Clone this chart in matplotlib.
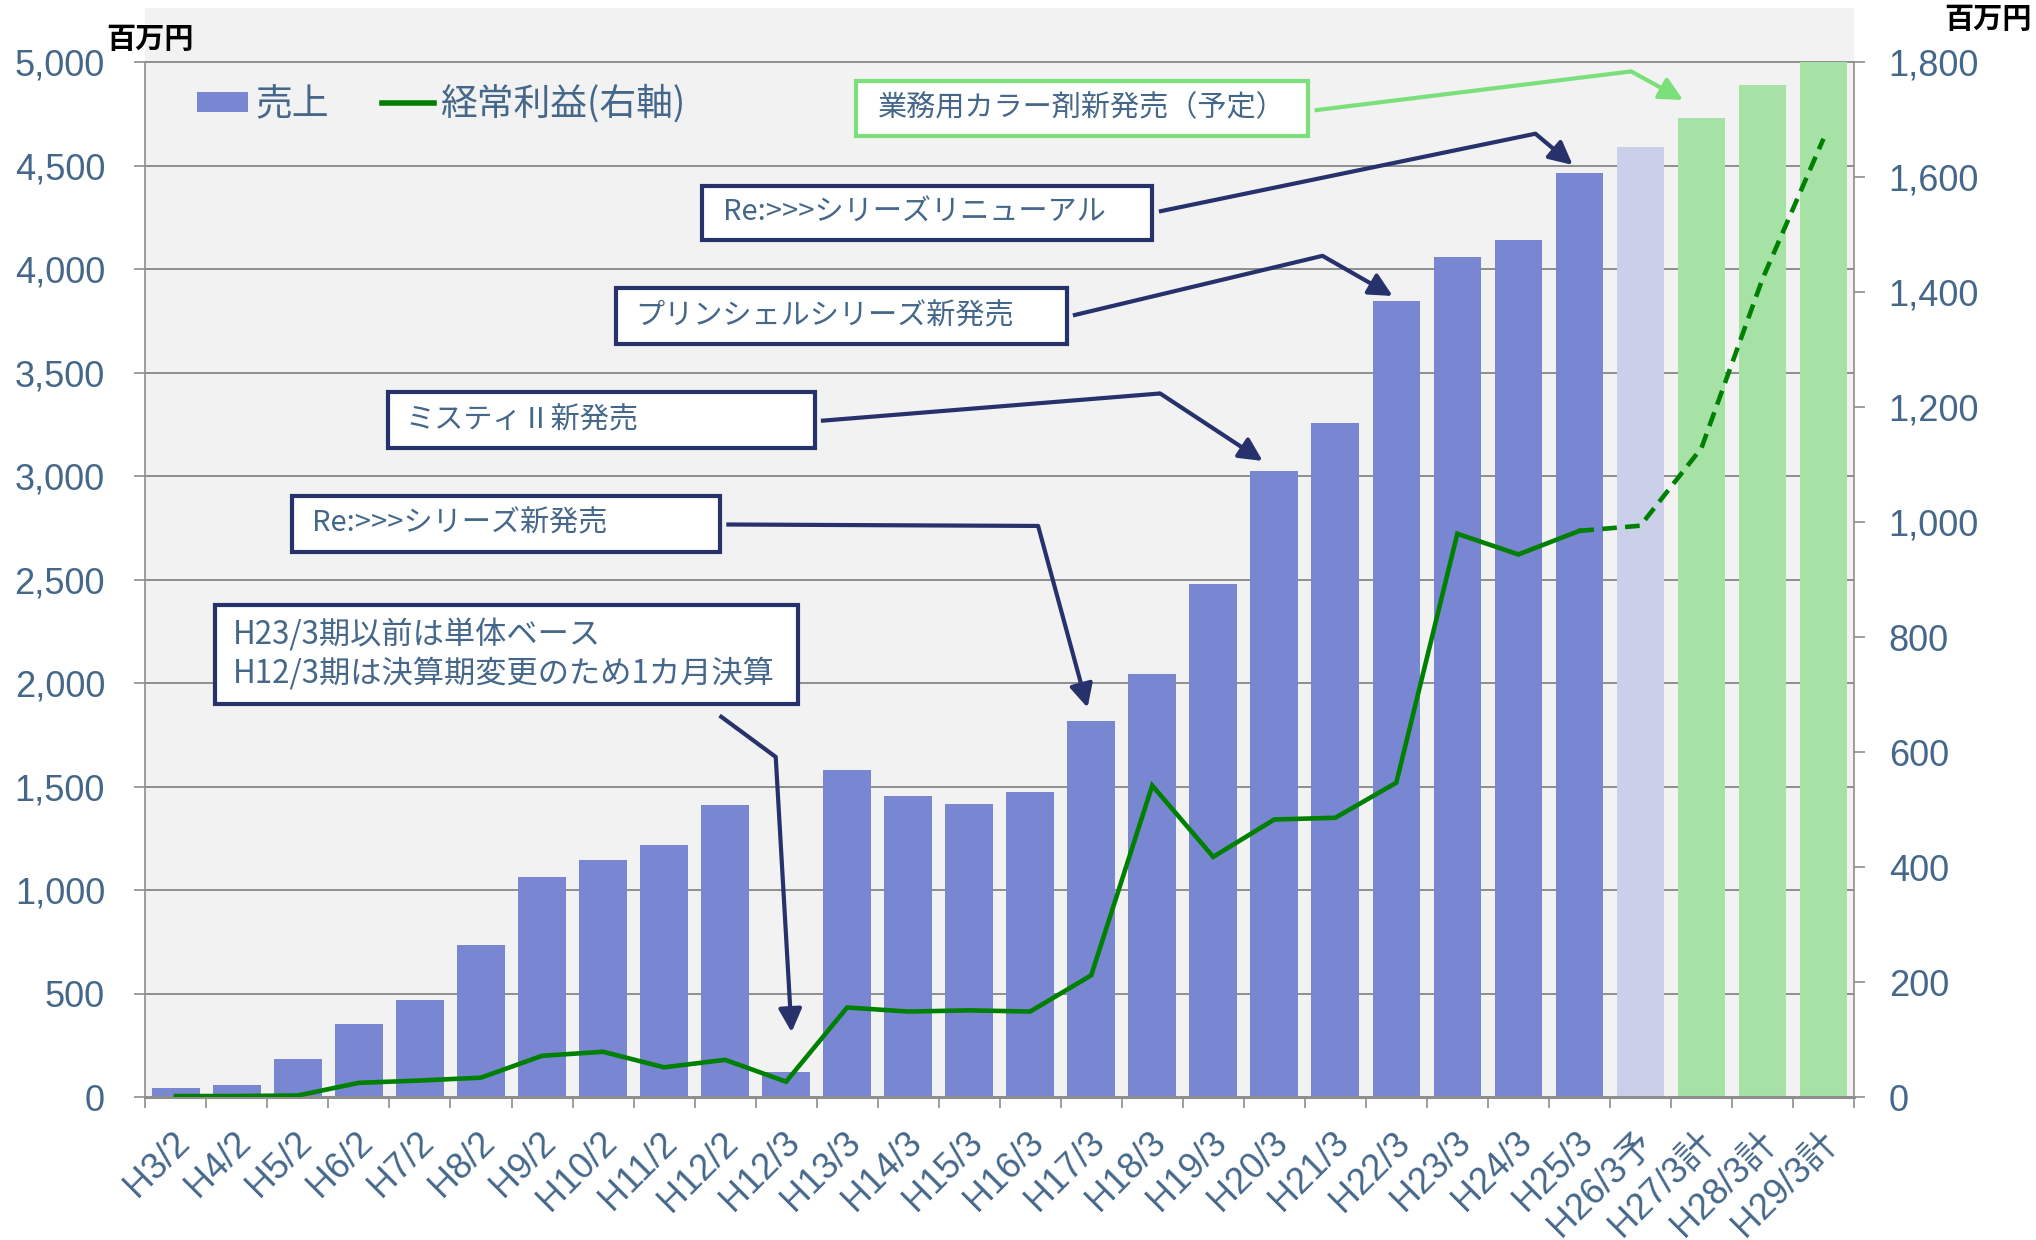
import numpy as np
import matplotlib
matplotlib.use('Agg')
import matplotlib.pyplot as plt
from matplotlib.lines import Line2D
from matplotlib.patches import Patch, Rectangle
from matplotlib.transforms import ScaledTranslation

# === data ===
periods = ['H3/2', 'H4/2', 'H5/2', 'H6/2', 'H7/2', 'H8/2', 'H9/2', 'H10/2', 'H11/2', 'H12/2',
           'H12/3', 'H13/3', 'H14/3', 'H15/3', 'H16/3', 'H17/3', 'H18/3', 'H19/3', 'H20/3',
           'H21/3', 'H22/3', 'H23/3', 'H24/3', 'H25/3', 'H26/3予', 'H27/3計', 'H28/3計', 'H29/3計']
sales = [45, 60, 185, 355, 470, 735, 1065, 1145, 1220, 1410,
         120, 1580, 1455, 1415, 1475, 1820, 2045, 2480, 3025,
         3255, 3845, 4060, 4140, 4465, 4590, 4730, 4890, 5000]
profit = [2, 2, 3, 25, 29, 34, 72, 79, 52, 65,
          27, 156, 149, 151, 149, 212, 542, 418, 483,
          486, 547, 980, 944, 985, 994, 1129, 1423, 1667]
n_actual = 24  # H3/2 .. H25/3 are actual results

TXT = '#45678A'
NAVY = '#27316B'
GRID = '#8e8e8e'
BAR = '#7986D2'
BAR_EST = '#CACFEA'
BAR_PLAN = '#A6E2A6'
LINE = '#008000'
LGREEN = '#7BDF7B'

plt.rcParams['font.family'] = ['Liberation Sans', 'Noto Sans CJK JP', 'DejaVu Sans']
JP = ['Noto Sans CJK JP', 'DejaVu Sans']

fig = plt.figure(figsize=(20.36, 12.40), dpi=100)
ax = fig.add_axes([0.0714, 0.11516, 0.8392, 0.87839])
ax.set_facecolor('#f2f2f2')

x = np.arange(len(periods))
colors = [BAR] * n_actual + [BAR_EST] + [BAR_PLAN] * 3
ax.bar(x, sales, width=0.78, color=colors, zorder=2)

# left axis: gray area continues above 5,000 like the Excel plot area
ax.set_xlim(-0.5, len(periods) - 0.5)
ax.set_ylim(0, 5262.4)
ax.set_yticks(np.arange(0, 5001, 500))
ax.set_yticklabels([f'{v:,}' for v in range(0, 5001, 500)])
ax.yaxis.grid(True, color=GRID, linewidth=1.4, zorder=1)
ax.set_axisbelow(True)
ax.tick_params(axis='y', length=8, width=1.2, color=GRID, pad=21, labelsize=26, labelcolor=TXT)
for s in ['top', 'right']:
    ax.spines[s].set_visible(False)
ax.spines['left'].set_bounds(0, 5000)
ax.spines['left'].set_color(GRID)
ax.spines['left'].set_linewidth(1.2)
ax.spines['bottom'].set_color(GRID)
ax.spines['bottom'].set_linewidth(2.2)

# x ticks: marks between categories, labels under the bars
ax.set_xticks(np.arange(-0.5, len(periods), 1.0))
ax.set_xticklabels([])
ax.tick_params(axis='x', which='major', length=8, width=1.2, color=GRID)
ax.set_xticks(x, labels=periods, minor=True)
ax.tick_params(axis='x', which='minor', length=0, pad=29, labelsize=26, labelcolor=TXT)
shift = ScaledTranslation(8 / 100, 0, fig.dpi_scale_trans)
for lbl in ax.get_xticklabels(minor=True):
    lbl.set_rotation(45)
    lbl.set_ha('right')
    lbl.set_va('center')
    lbl.set_rotation_mode('anchor')
    lbl.set_transform(lbl.get_transform() + shift)

# right axis: 経常利益
ax2 = ax.twinx()
ax2.set_ylim(0, 1894.4)
ax2.set_yticks(np.arange(0, 1801, 200))
ax2.set_yticklabels([f'{v:,}' for v in range(0, 1801, 200)])
ax2.tick_params(axis='y', length=8, width=1.2, color=GRID, pad=17, labelsize=26, labelcolor=TXT)
for s in ['top', 'left', 'bottom']:
    ax2.spines[s].set_visible(False)
ax2.spines['right'].set_bounds(0, 1800)
ax2.spines['right'].set_color(GRID)
ax2.spines['right'].set_linewidth(1.2)

ax2.plot(x[:n_actual], profit[:n_actual], color=LINE, linewidth=3.3, solid_joinstyle='miter', zorder=3)
ax2.plot(x[n_actual - 1:], profit[n_actual - 1:], color=LINE, linewidth=3.3,
         linestyle=(0, (3.2, 1.8)), zorder=3)

# legend
handles = [Patch(facecolor=BAR), Line2D([], [], color=LINE, linewidth=4)]
ax.legend(handles, ['売上', '経常利益(右軸)'], loc='center left', bbox_to_anchor=(0.0302, 0.9115),
          ncol=2, frameon=False, borderpad=0, borderaxespad=0, handlelength=1.4, handleheight=0.45,
          handletextpad=0.18, columnspacing=1.45, prop={'family': JP, 'size': 26.5}, labelcolor=TXT)

# unit labels
fig.text(150 / 2036, 1 - 39 / 1240, '百万円', family=JP, fontsize=21, weight='bold', color='black',
         ha='center', va='center')
fig.text(1988 / 2036, 1 - 19 / 1240, '百万円', family=JP, fontsize=21, weight='bold', color='black',
         ha='center', va='center')

# === annotation boxes and callout arrows (x in category index, y in left-axis units) ===
notes = [
    # text, box x0, x1, y_top, y_bottom, text x, start, bend, tip, edge colour, font size
    ('業務用カラー剤新発売（予定）', 11.15, 18.55, 4912, 4642, 11.51, (18.66, 4768), (23.85, 4956), (24.70, 4818), LGREEN, 21),
    ('Re:>>>シリーズリニューアル', 8.62, 16.0, 4404, 4141, 8.96, (16.11, 4279), (22.28, 4655), (22.89, 4504), NAVY, 21),
    ('プリンシェルシリーズ新発売', 7.21, 14.60, 3908, 3639, 7.53, (14.70, 3777), (18.79, 4065), (19.94, 3871), NAVY, 21),
    ('ミスティⅡ新発売', 3.47, 10.47, 3407, 3137, 3.77, (10.57, 3268), (16.13, 3400), (17.81, 3074), NAVY, 21),
    ('Re:>>>シリーズ新発売', 1.91, 8.91, 2905, 2635, 2.23, (9.02, 2767), (14.13, 2760), (14.94, 1882), NAVY, 21),
    ('H23/3期以前は単体ベース\nH12/3期は決算期変更のため1カ月決算', 0.64, 10.19, 2378, 1901, 0.94,
     (8.91, 1844), (9.83, 1644), (10.09, 314), NAVY, 22.5),
]
for text, x0, x1, yt, yb, tx, start, bend, tip, ec, fs in notes:
    ax.add_patch(Rectangle((x0, yb), x1 - x0, yt - yb, facecolor='white', edgecolor=ec,
                           linewidth=3, zorder=5, clip_on=False))
    ax.text(tx, (yt + yb) / 2, text, family=JP, fontsize=fs, color=TXT, ha='left', va='center',
            linespacing=1.2, zorder=6)
    ax.plot([start[0], bend[0]], [start[1], bend[1]], color=ec, linewidth=3, zorder=5,
            solid_capstyle='butt')
    ax.annotate('', xy=tip, xytext=bend, zorder=5,
                arrowprops=dict(arrowstyle='-|>,head_length=0.7,head_width=0.35', color=ec, lw=3,
                                shrinkA=0, shrinkB=0, mutation_scale=20))

fig.savefig('out.png', dpi=100)
